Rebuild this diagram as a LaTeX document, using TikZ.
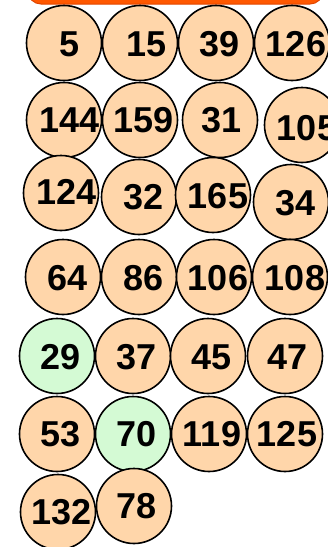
\documentclass[tikz,border=0pt]{standalone}
\usepackage{fontspec}
\setmainfont{Liberation Sans}
\begin{document}
\begin{tikzpicture}[x=1pt,y=-1pt,
  ball/.style={circle,draw=black,line width=1.6pt,fill=peach,minimum size=75pt,inner sep=0pt},
  gball/.style={ball,fill=mint},
  num/.style={font=\fontsize{36}{36}\selectfont\bfseries,inner sep=0pt,anchor=center}]
\definecolor{peach}{RGB}{255,214,170}
\definecolor{mint}{RGB}{212,250,212}
\definecolor{barfill}{RGB}{255,88,0}
\definecolor{barline}{RGB}{225,70,0}
\useasboundingbox (0,0) rectangle (328,547);
\fill[white] (0,0) rectangle (328,547);
\draw[fill=barfill,draw=barline,line width=1pt,rounded corners=13pt] (28,-30) rectangle (323,4);
% row 1
\node[ball] (c5) at (64,43) {};   \node[num] (t5) at (70,44) {5};
\node[ball] (c15) at (140,43) {}; \node[num] (t15) at (147,44) {15};
\node[ball] (c39) at (216,43) {}; \node[num] (t39) at (220,44) {39};
\node[ball] (c126) at (292,43) {}; \node[num] (t126) at (296,44) {126};
% row 2
\node[ball] (c144) at (64,120) {}; \node[num] (t144) at (70,120) {144};
\node[ball] (c159) at (140,120) {}; \node[num] (t159) at (144,120) {159};
\node[ball] (c31) at (220,120) {}; \node[num] (t31) at (222,120) {31};
\node[ball] (c105) at (302,125) {}; \node[num] (t105) at (307,128) {105};
% row 3
\node[ball] (c124) at (61,193) {}; \node[num] (t124) at (67,192) {124};
\node[ball] (c32) at (139,197) {}; \node[num] (t32) at (144,197) {32};
\node[ball] (c165) at (213,195) {}; \node[num] (t165) at (218,196) {165};
\node[ball] (c34) at (291,202) {}; \node[num] (t34) at (296,203) {34};
% row 4
\node[ball] (c64) at (63,277) {}; \node[num] (t64) at (68,278) {64};
\node[ball] (c86) at (139,277) {}; \node[num] (t86) at (144,278) {86};
\node[ball] (c106) at (214,277) {}; \node[num] (t106) at (218,278) {106};
\node[ball] (c108) at (290,277) {}; \node[num] (t108) at (295,278) {108};
% row 5
\node[gball] (c29) at (57,356) {}; \node[num] (t29) at (61,357) {29};
\node[ball] (c37) at (133,356) {}; \node[num] (t37) at (137,357) {37};
\node[ball] (c45) at (208,356) {}; \node[num] (t45) at (212,357) {45};
\node[ball] (c47) at (285,356) {}; \node[num] (t47) at (288,357) {47};
% row 6
\node[ball] (c53) at (57,434) {}; \node[num] (t53) at (61,434) {53};
\node[gball] (c70) at (133,434) {}; \node[num] (t70) at (137,434) {70};
\node[ball] (c119) at (209,434) {}; \node[num] (t119) at (212,434) {119};
\node[ball] (c125) at (285,434) {}; \node[num] (t125) at (287,434) {125};
% row 7
\node[ball] (c132) at (58,512) {}; \node[num] (t132) at (62,512) {132};
\node[ball] (c78) at (134,506) {}; \node[num] (t78) at (137,506) {78};
\end{tikzpicture}
\end{document}
